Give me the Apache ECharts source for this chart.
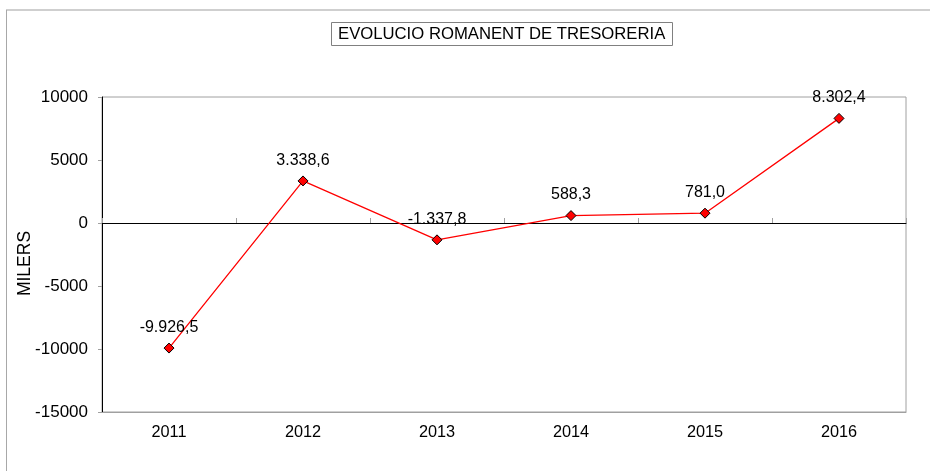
<!DOCTYPE html>
<html>
<head>
<meta charset="utf-8">
<script src="https://cdn.jsdelivr.net/npm/echarts@6/dist/echarts.min.js"></script>
<style>
  html, body { margin: 0; padding: 0; background: #fff; }
  #chart { width: 930px; height: 471px; }
</style>
</head>
<body>
<div id="chart"></div>
<script>
// Anys i romanent de tresoreria (milers)
const years = ['2011', '2012', '2013', '2014', '2015', '2016'];
const romanent = [-9926.5, 3338.6, -1337.8, 588.3, 781.0, 8302.4];
const yMin = -15000, yMax = 10000, yStep = 5000;
const yTitle = 'MILERS';

const FONT = '"Liberation Sans", Arial, sans-serif';

// Format català: punt per als milers, coma per als decimals
function fmt(v) {
  const neg = v < 0;
  const s = Math.abs(v).toFixed(1);
  const parts = s.split('.');
  const intPart = parts[0].replace(/\B(?=(\d{3})+(?!\d))/g, '.');
  return (neg ? '-' : '') + intPart + ',' + parts[1];
}

const chart = echarts.init(document.getElementById('chart'));
chart.setOption({
  backgroundColor: '#fff',
  animation: false,
  title: {
    text: 'EVOLUCIO ROMANENT DE TRESORERIA',
    left: 331,
    top: 22,
    padding: [4, 7, 3, 7],
    borderColor: '#808080',
    borderWidth: 1,
    textStyle: { fontFamily: FONT, fontSize: 16.7, fontWeight: 'normal', color: '#000' }
  },
  graphic: [
    { type: 'line', shape: { x1: 6, y1: 10, x2: 930, y2: 10 }, style: { stroke: '#cfcfcf', lineWidth: 2 }, silent: true },
    { type: 'line', shape: { x1: 6.5, y1: 10, x2: 6.5, y2: 471 }, style: { stroke: '#a8a8a8', lineWidth: 1 }, silent: true },
    {
      type: 'text', x: 25.5, y: 263.5, rotation: Math.PI / 2,
      style: { text: yTitle, fontFamily: FONT, fontSize: 17.5, fill: '#000', align: 'center', verticalAlign: 'middle' },
      silent: true
    }
  ],
  grid: {
    left: 102, right: 24, top: 97, bottom: 59,
    show: true, borderColor: '#a0a0a0', borderWidth: 1, backgroundColor: 'transparent'
  },
  xAxis: [
    {
      type: 'category',
      data: years,
      boundaryGap: true,
      axisLine: { onZero: true, lineStyle: { color: '#000', width: 1 } },
      axisTick: { show: true, inside: true, length: 5, alignWithLabel: false, lineStyle: { color: '#a0a0a0' } },
      axisLabel: { show: false },
      splitLine: { show: false }
    },
    {
      type: 'category',
      data: years,
      position: 'bottom',
      boundaryGap: true,
      axisLine: { onZero: false, lineStyle: { color: '#a0a0a0' } },
      axisTick: { show: false },
      axisLabel: { margin: 13, fontFamily: FONT, fontSize: 16.3, color: '#000' },
      splitLine: { show: false }
    }
  ],
  yAxis: {
    type: 'value',
    min: yMin, max: yMax, interval: yStep,
    axisLine: { show: true, onZero: false, lineStyle: { color: '#000' } },
    axisTick: { show: true, length: 4, lineStyle: { color: '#a0a0a0' } },
    axisLabel: { margin: 14, fontFamily: FONT, fontSize: 17, color: '#000', formatter: v => String(v) },
    splitLine: { show: false }
  },
  series: [{
    type: 'line',
    data: romanent,
    xAxisIndex: 0,
    symbol: 'diamond',
    symbolSize: 10,
    lineStyle: { color: '#ff0000', width: 1.3 },
    itemStyle: { color: '#ff0000', borderColor: '#000', borderWidth: 1 },
    label: {
      show: true,
      position: 'top',
      distance: 7,
      fontFamily: FONT,
      fontSize: 16,
      color: '#000',
      formatter: p => fmt(p.value)
    }
  }]
});
</script>
</body>
</html>
